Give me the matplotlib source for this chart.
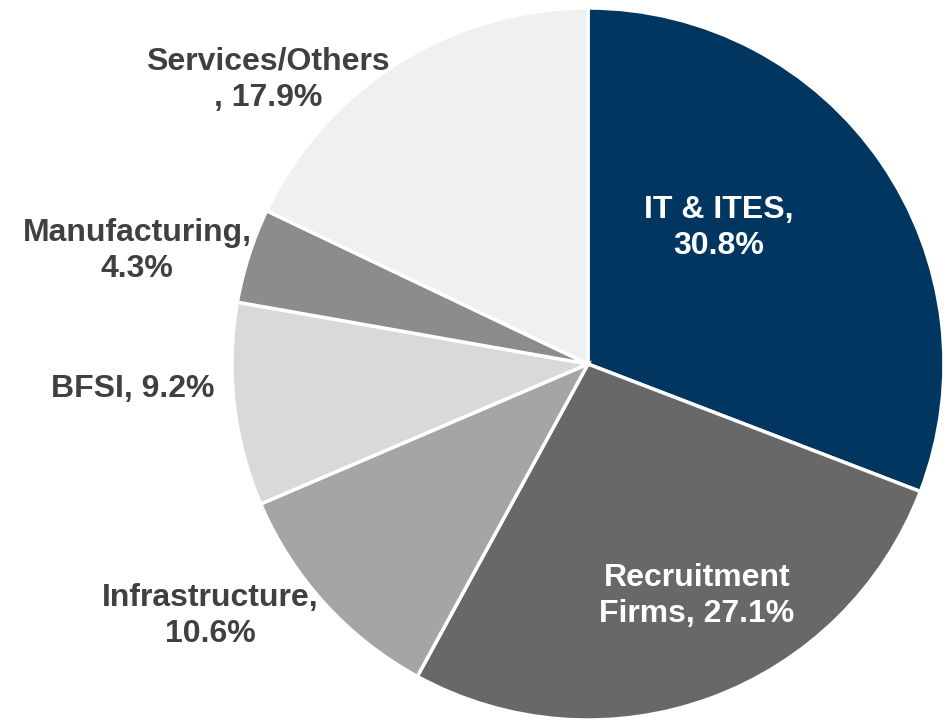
import matplotlib
matplotlib.use('Agg')
import matplotlib.pyplot as plt

plt.rcParams['font.family'] = ['Liberation Sans', 'DejaVu Sans']

# data
sectors = ['IT & ITES', 'Recruitment Firms', 'Infrastructure', 'BFSI', 'Manufacturing', 'Services/Others']
shares = [30.8, 27.1, 10.6, 9.2, 4.3, 17.9]
labels = ['IT & ITES,\n30.8%', 'Recruitment\nFirms, 27.1%', 'Infrastructure,\n10.6%',
          'BFSI, 9.2%', 'Manufacturing,\n4.3%', 'Services/Others\n, 17.9%']
colors = ['#003660', '#686868', '#A5A5A5', '#D9D9D9', '#8C8C8C', '#F0F0F0']

# label placement (pixel coords, origin bottom-left) and colour
label_pos = [(719, 492), (697, 124), (210, 104), (133, 331), (137, 469), (268, 640)]
label_col = ['white', 'white', '#404040', '#404040', '#404040', '#404040']

fig = plt.figure(figsize=(9.51, 7.2), dpi=100)
ax = fig.add_axes([0, 0, 1, 1])
ax.pie(shares, colors=colors, startangle=90, counterclock=False,
       center=(588, 356), radius=356,
       wedgeprops=dict(edgecolor='white', linewidth=2.5))
ax.set_xlim(0, 951)
ax.set_ylim(0, 720)
ax.set_aspect('equal')
ax.axis('off')

for txt, (x, y), c in zip(labels, label_pos, label_col):
    ax.text(x, y, txt, ha='center', va='center', fontsize=23,
            fontweight='bold', color=c, linespacing=1.3)

plt.savefig('out.png', dpi=100)
